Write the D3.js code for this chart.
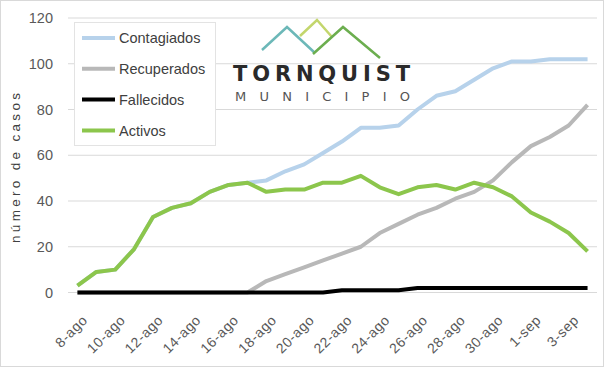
<!DOCTYPE html>
<html>
<head>
<meta charset="utf-8">
<script src="https://cdn.jsdelivr.net/npm/d3@7"></script>
<style>
  body { margin:0; background:#fff; }
  text { font-family: "Liberation Sans", "DejaVu Sans", sans-serif; }
</style>
</head>
<body>
<div id="chart"></div>
<script>
var dates = ["8-ago","9-ago","10-ago","11-ago","12-ago","13-ago","14-ago","15-ago","16-ago","17-ago",
             "18-ago","19-ago","20-ago","21-ago","22-ago","23-ago","24-ago","25-ago","26-ago","27-ago",
             "28-ago","29-ago","30-ago","31-ago","1-sep","2-sep","3-sep","4-sep"];
var contagiados = [3,9,10,19,33,37,39,44,47,48,49,53,56,61,66,72,72,73,80,86,88,93,98,101,101,102,102,102];
var recuperados = [0,0,0,0,0,0,0,0,0,0,5,8,11,14,17,20,26,30,34,37,41,44,49,57,64,68,73,82];
var fallecidos  = [0,0,0,0,0,0,0,0,0,0,0,0,0,0,1,1,1,1,2,2,2,2,2,2,2,2,2,2];
var activos     = [3,9,10,19,33,37,39,44,47,48,44,45,45,48,48,51,46,43,46,47,45,48,46,42,35,31,26,18];
var yTicks = [0,20,40,60,80,100,120];

var series = [
  {name:"Contagiados", values:contagiados, color:"#b7d2eb"},
  {name:"Recuperados", values:recuperados, color:"#b8b8b8"},
  {name:"Fallecidos",  values:fallecidos,  color:"#000000"},
  {name:"Activos",     values:activos,     color:"#8cc64c"}
];

var W = 615, H = 368;
var margin = {top:18, left:68, right:18, bottom:75.5};
var width = 597 - margin.left, height = 292.5 - margin.top;

var svg = d3.select("#chart").append("svg")
            .attr("width", W).attr("height", H);

// chart border
svg.append("rect")
   .attr("x",0.5).attr("y",0.5).attr("width",603).attr("height",366)
   .attr("fill","#fff").attr("stroke","#d9d9d9");

var g = svg.append("g").attr("transform","translate("+margin.left+","+margin.top+")");

var x = d3.scalePoint().domain(dates).range([0,width]).padding(0.5);
var y = d3.scaleLinear().domain([0,120]).range([height,0]);

// gridlines
g.selectAll(".grid").data(yTicks).enter().append("line")
 .attr("x1",0).attr("x2",width)
 .attr("y1",function(d){return y(d);}).attr("y2",function(d){return y(d);})
 .attr("stroke","#d9d9d9").attr("stroke-width",1);

// y axis labels
var yAxis = g.append("g").call(d3.axisLeft(y).tickValues(yTicks).tickSize(0).tickPadding(15));
yAxis.select(".domain").remove();
yAxis.selectAll("text").attr("fill","#595959").style("font-size","14.5px")
     .style("font-family","'Liberation Sans', sans-serif");

// x axis labels, every other date
var xAxis = g.append("g").attr("transform","translate(0,"+height+")")
  .call(d3.axisBottom(x).tickValues(dates.filter(function(d,i){return i%2===0;})).tickSize(0));
xAxis.select(".domain").remove();
xAxis.selectAll("text")
     .attr("fill","#595959").style("font-size","14px")
     .style("letter-spacing","0.6px")
     .style("font-family","'Liberation Sans', sans-serif")
     .attr("text-anchor","end")
     .attr("dy","0.35em").attr("y",0)
     .attr("transform","translate(7,25) rotate(-45)");

// y title
svg.append("text")
   .attr("transform","translate(20,168) rotate(-90)")
   .attr("text-anchor","middle")
   .attr("textLength",150).attr("lengthAdjust","spacing")
   .attr("fill","#404040").style("font-size","13.5px")
   .text("número de casos");

// lines
var line = d3.line()
  .x(function(d,i){return x(dates[i]);})
  .y(function(d){return y(d);});

g.selectAll(".serie").data(series).enter().append("path")
 .attr("fill","none")
 .attr("stroke",function(d){return d.color;})
 .attr("stroke-width",4)
 .attr("stroke-linejoin","round")
 .attr("d",function(d){return line(d.values);});

// legend
var leg = svg.append("g");
leg.append("rect").attr("x",74.5).attr("y",22.5).attr("width",141).attr("height",123)
   .attr("fill","#fff").attr("stroke","#e3e3e3");
var rows = leg.selectAll(".row").data(series).enter().append("g")
  .attr("transform",function(d,i){return "translate(0,"+(38+i*30.8)+")";});
rows.append("line").attr("x1",82).attr("x2",115).attr("y1",0).attr("y2",0)
    .attr("stroke",function(d){return d.color;}).attr("stroke-width",4);
rows.append("text").attr("x",119).attr("y",0).attr("dy","0.36em")
    .attr("fill","#404040").style("font-size","14.5px")
    .text(function(d){return d.name;});

// logo
var logo = svg.append("g");
var peaks = [
  {pts:[[262,50],[287,27],[315,53]], color:"#6cb8b8"},
  {pts:[[300,36],[317,20],[332,37]], color:"#c3d66c"},
  {pts:[[313,54],[343,27],[380,58]], color:"#6cae4f"}
];
logo.selectAll(".peak").data(peaks).enter().append("path")
    .attr("d",function(d){return d3.line()(d.pts);})
    .attr("fill","none").attr("stroke",function(d){return d.color;})
    .attr("stroke-width",2.5).attr("stroke-linejoin","miter");
logo.append("text").attr("x",233).attr("y",81)
    .attr("textLength",177).attr("lengthAdjust","spacing")
    .attr("fill","#2a2a2a").style("font-size","21px").style("font-weight","bold")
    .style("font-family","'DejaVu Sans', sans-serif")
    .text("TORNQUIST");
logo.append("text").attr("x",235).attr("y",101)
    .attr("textLength",175).attr("lengthAdjust","spacing")
    .attr("fill","#555").style("font-size","13px")
    .style("font-family","'DejaVu Sans', sans-serif")
    .text("MUNICIPIO");
</script>
</body>
</html>
